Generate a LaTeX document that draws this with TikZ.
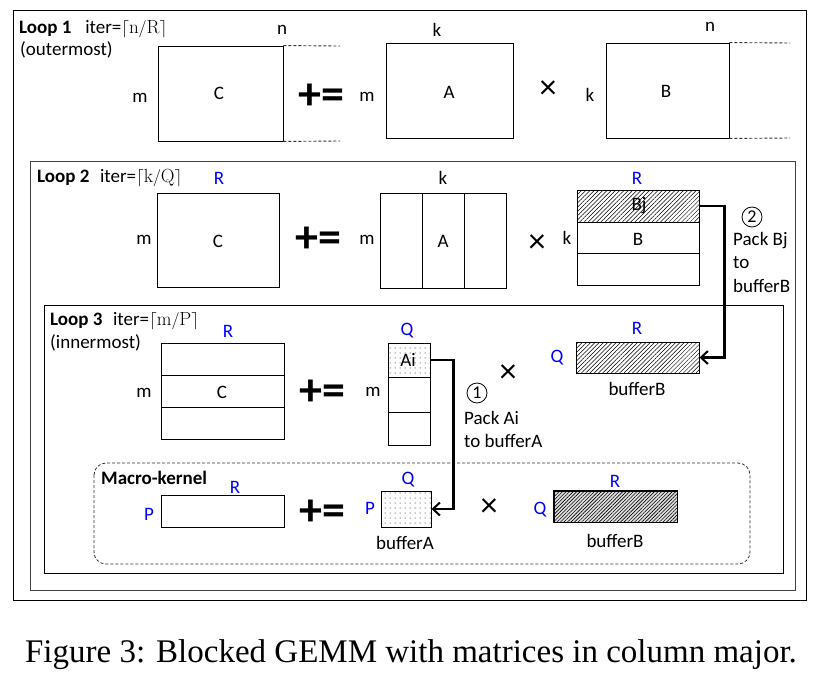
\documentclass[tikz,border=0pt]{standalone}
\usepackage{fontspec}
\setsansfont{Carlito}
\newfontfamily\capfont{Liberation Serif}
\usetikzlibrary{arrows.meta,patterns,patterns.meta,fit}
\definecolor{lblblue}{RGB}{0,0,255}
\tikzset{
  txt/.style={font=\sffamily\fontsize{19}{22}\selectfont, inner sep=0pt},
  bl/.style={txt, text=lblblue},
  box/.style={draw=black, line width=0.9pt, inner sep=0pt},
  frame/.style={draw=black, line width=0.9pt},
  pluseq/.style={font=\sffamily\bfseries\fontsize{46}{46}\selectfont, inner sep=0pt},
  times/.style={font=\sffamily\fontsize{34}{34}\selectfont, inner sep=0pt},
  hatch/.style={pattern={Lines[angle=45,distance=3pt,line width=0.5pt]}},
  dotted pat/.style={pattern={Dots[distance=5pt,radius=0.5pt]}},
  pack/.style={draw=black, line width=2.6pt, -{Straight Barb[length=7pt,width=13pt,line width=2pt]}},
  dashline/.style={draw=black!80, line width=0.9pt, dash pattern=on 3pt off 2pt},
  circnum/.style={circle, draw=black, line width=0.8pt, minimum size=20pt, inner sep=0pt, font=\sffamily\fontsize{18}{18}\selectfont},
}
\begin{document}
\begin{tikzpicture}[x=1pt,y=-1pt]
\useasboundingbox (0,0) rectangle (824,683);
\fill[white] (0,0) rectangle (824,683);

% ---------- frames ----------
\draw[frame] (13,10) rectangle (806,600);
\draw[draw=black!75, line width=0.9pt] (30,161) rectangle (795,590);
\draw[frame] (44,305) rectangle (783,573);
\draw[draw=black!80, line width=0.8pt, dash pattern=on 3pt off 2pt, rounded corners=12pt] (94,463) rectangle (750,564);

% ---------- Loop 1 ----------
\node[txt, anchor=west] (l1) at (19,29) {\textbf{Loop 1}\,\,\, iter=$\lceil\mathrm{n/R}\rceil$};
\node[txt, anchor=west] (l1b) at (20,50) {(outermost)};
\node[box, fit={(158,46) (283,141)}] (C1) {};
\node[txt] (C1l) at (219,93) {C};
\node[txt] (m1a) at (140,98) {m};
\node[txt] (n1a) at (282,30) {n};
\coordinate (dC1a) at (340,46);
\coordinate (dC1b) at (340,141);
\draw[dashline] (C1.north east) -- (dC1a);
\draw[dashline] (C1.south east) -- (dC1b);
\node[pluseq] (pe1) at (321,97) {+=};
\node[txt] (m1b) at (367,97) {m};
\node[box, fit={(386,43) (513,138)}] (A1) {};
\node[txt] (A1l) at (449,92) {A};
\node[txt] (k1a) at (437,30) {k};
\node[times] (x1) at (548,90) {×};
\node[txt] (k1b) at (590,95) {k};
\node[box, fit={(606,43) (729,138)}] (B1) {};
\node[txt] (B1l) at (666,91) {B};
\node[txt] (n1b) at (710,27) {n};
\coordinate (dB1a) at (790,43);
\coordinate (dB1b) at (790,138);
\draw[dashline] (B1.north east) -- (dB1a);
\draw[dashline] (B1.south east) -- (dB1b);

% ---------- Loop 2 ----------
\node[txt, anchor=west] (l2) at (37,178) {\textbf{Loop 2}\,\, iter=$\lceil\mathrm{k/Q}\rceil$};
\node[bl] (r2a) at (219,178) {R};
\node[box, fit={(157,193) (279,287)}] (C2) {};
\node[txt] (C2l) at (218,241) {C};
\node[txt] (m2a) at (144,240) {m};
\node[pluseq] (pe2) at (318,240) {+=};
\node[txt] (m2b) at (367,240) {m};
\node[box, fit={(380,193) (422,288)}] (A2a) {};
\node[box, fit={(422,193) (464,288)}] (A2b) {};
\node[box, fit={(464,193) (506,288)}] (A2c) {};
\node[txt] (A2l) at (443,241) {A};
\node[txt] (k2a) at (443,178) {k};
\node[times] (x2) at (537,244) {×};
\node[txt] (k2b) at (567,238) {k};
\node[box, hatch, fit={(577,190) (699,222)}] (Bj) {};
\node[txt] (Bjl) at (639,206) {Bj};
\node[box, fit={(577,222) (699,253)}] (B2) {};
\node[txt] (B2l) at (638,239) {B};
\node[box, fit={(577,253) (699,285)}] (B2c) {};
\node[bl] (r2b) at (637,178) {R};
\node[circnum] (c2) at (752,217) {2};
\node[txt, anchor=north west, align=left, font=\sffamily\fontsize{19}{23.5}\selectfont] (p2) at (733,232) {Pack Bj\\to\\bufferB};

% ---------- Loop 3 ----------
\node[txt, anchor=west] (l3) at (50,321) {\textbf{Loop 3}\,\, iter=$\lceil\mathrm{m/P}\rceil$};
\node[txt, anchor=west] (l3b) at (50,343) {(innermost)};
\node[bl] (r3a) at (228,331) {R};
\node[box, fit={(161,343) (284,375)}] (C3a) {};
\node[box, fit={(161,375) (284,407)}] (C3b) {};
\node[box, fit={(161,407) (284,439)}] (C3c) {};
\node[txt] (C3l) at (222,392) {C};
\node[txt] (m3a) at (144,393) {m};
\node[pluseq] (pe3) at (322,393) {+=};
\node[txt] (m3b) at (373,392) {m};
\node[box, dotted pat, fit={(388,343) (430,377)}] (Ai) {};
\node[txt] (Ail) at (408,360) {Ai};
\node[box, fit={(388,377) (430,412)}] (A3b) {};
\node[box, fit={(388,412) (430,445)}] (A3c) {};
\node[bl] (q3a) at (407,331) {Q};
\node[circnum] (c1) at (477,393) {1};
\node[txt, anchor=north west, align=left, font=\sffamily\fontsize{19}{23}\selectfont] (p1) at (464,411) {Pack Ai\\to bufferA};
\node[times] (x3) at (508,374) {×};
\node[box, hatch, fit={(576,342) (699,373)}] (bufB3) {};
\node[bl] (r3b) at (637,328) {R};
\node[bl] (q3b) at (557,358) {Q};
\node[txt] (bb3) at (637,389) {bufferB};

% ---------- Macro-kernel ----------
\node[txt, anchor=west] (mk) at (101,478) {\textbf{Macro-kernel}};
\node[bl] (r4a) at (235,487) {R};
\node[box, fit={(161,495) (284,527)}] (C4) {};
\node[bl] (p4a) at (149,514) {P};
\node[pluseq] (pe4) at (322,513) {+=};
\node[box, dotted pat, fit={(381,491) (431,527)}] (bufA) {};
\node[bl] (q4a) at (408,480) {Q};
\node[bl] (p4b) at (370,508) {P};
\node[txt] (ba4) at (405,543) {bufferA};
\node[times] (x4) at (489,508) {×};
\node[box, fill=black!12, fit={(554,491) (677,522)}] (bufB4) {};
\fill[pattern={Lines[angle=45,distance=2.5pt,line width=0.6pt]}] (bufB4.north west) rectangle (bufB4.south east);
\draw[line width=0.9pt] (bufB4.north west) rectangle (bufB4.south east);
\node[bl] (r4b) at (615,481) {R};
\node[bl] (q4b) at (540,510) {Q};
\node[txt] (bb4) at (615,541) {bufferB};

% ---------- pack arrows ----------
\draw[pack] (Bj.east) -| ([xshift=25pt]bufB3.east) -- (bufB3.east);
\draw[pack] (Ai.east) -| ([xshift=22pt]bufA.east) -- (bufA.east);

% ---------- caption ----------
\node[font=\capfont\fontsize{33}{33}\selectfont, inner sep=0pt, anchor=base] (cap) at (411,662) {Figure 3: Blocked GEMM with matrices in column major.};
\end{tikzpicture}
\end{document}
